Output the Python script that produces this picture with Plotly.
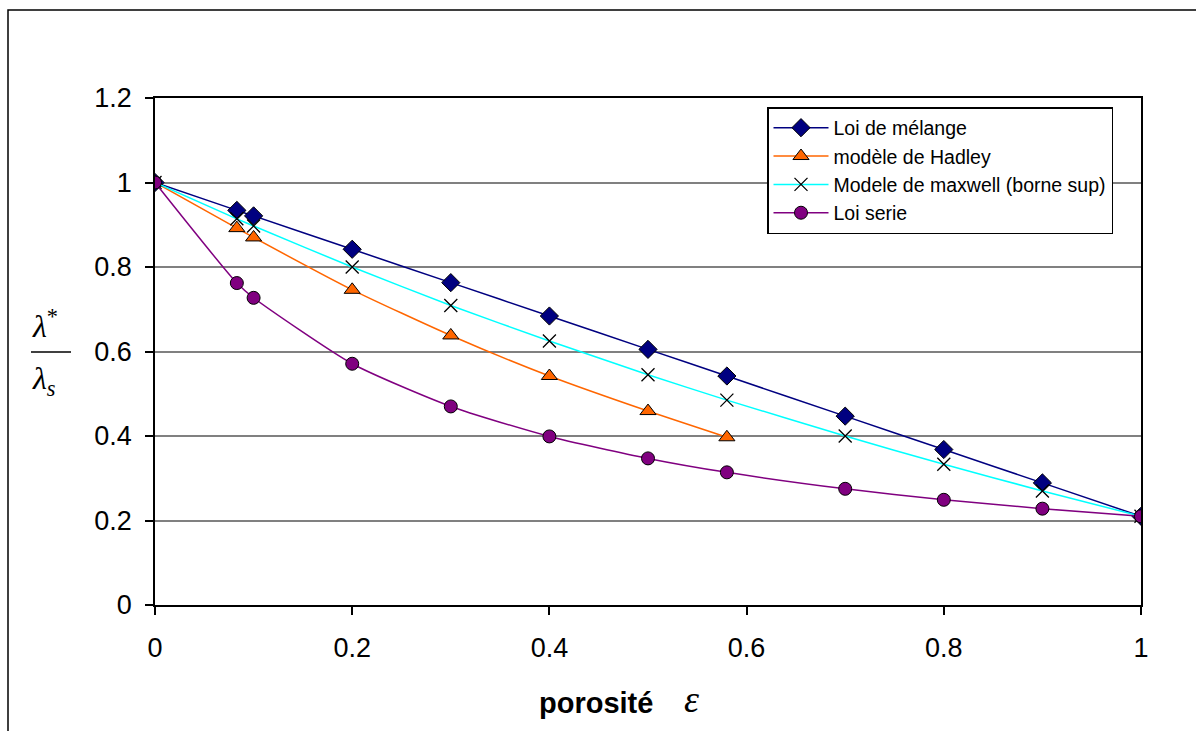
import plotly.graph_objects as go

# porosity values
x_melange = [0, 0.083, 0.1, 0.2, 0.3, 0.4, 0.5, 0.58, 0.7, 0.8, 0.9, 1.0]
y_melange = [1.0, 0.934, 0.921, 0.842, 0.763, 0.684, 0.605, 0.542, 0.447, 0.368, 0.289, 0.21]

x_hadley = [0, 0.083, 0.1, 0.2, 0.3, 0.4, 0.5, 0.58]
y_hadley = [1.0, 0.892, 0.870, 0.746, 0.638, 0.542, 0.459, 0.397]

x_maxwell = [0, 0.083, 0.1, 0.2, 0.3, 0.4, 0.5, 0.58, 0.7, 0.8, 0.9, 1.0]
y_maxwell = [1.0, 0.914, 0.897, 0.800, 0.709, 0.625, 0.545, 0.485, 0.400, 0.333, 0.270, 0.21]

x_serie = [0, 0.083, 0.1, 0.2, 0.3, 0.4, 0.5, 0.58, 0.7, 0.8, 0.9, 1.0]
y_serie = [1.0, 0.762, 0.727, 0.571, 0.470, 0.399, 0.347, 0.314, 0.275, 0.249, 0.228, 0.21]

names = ["Loi de mélange", "modèle de Hadley", "Modele de maxwell (borne sup)", "Loi serie"]
x_ticks = [0, 0.2, 0.4, 0.6, 0.8, 1]
y_ticks = [0, 0.2, 0.4, 0.6, 0.8, 1, 1.2]

W, H = 1196, 731
L, R, T, B = 155, 1141, 98, 605


def px(xp):
    return (xp - L) / (R - L)


def py(yp):
    return (B - yp) / (B - T)


fig = go.Figure()
fig.add_trace(go.Scatter(
    x=x_melange, y=y_melange, name=names[0], mode="lines+markers",
    line=dict(color="#000080", width=1.5, shape="spline", smoothing=0.6),
    marker=dict(symbol="diamond", size=14, color="#000080", line=dict(color="black", width=1))))
fig.add_trace(go.Scatter(
    x=x_hadley, y=y_hadley, name=names[1], mode="lines+markers",
    line=dict(color="#FF6600", width=1.5, shape="spline", smoothing=0.6),
    marker=dict(symbol="triangle-up", size=14, color="#FF6600", line=dict(color="black", width=1))))
fig.add_trace(go.Scatter(
    x=x_maxwell, y=y_maxwell, name=names[2], mode="lines+markers",
    line=dict(color="#00FFFF", width=1.5, shape="spline", smoothing=0.6),
    marker=dict(symbol="x-thin", size=13, color="black", line=dict(color="black", width=1.3))))
fig.add_trace(go.Scatter(
    x=x_serie, y=y_serie, name=names[3], mode="lines+markers",
    line=dict(color="#800080", width=1.5, shape="spline", smoothing=0.6),
    marker=dict(symbol="circle", size=13, color="#800080", line=dict(color="black", width=1))))

axis_font = dict(family="Arial, Liberation Sans, sans-serif", size=27, color="black")

fig.update_xaxes(
    range=[0, 1], tickvals=x_ticks, ticktext=[f"{v:g}" for v in x_ticks],
    showgrid=False, zeroline=False, showline=True, linecolor="black", linewidth=1.5,
    mirror=True, ticks="outside", ticklen=8, tickcolor="black", tickwidth=1.5,
    tickfont=axis_font, ticklabelstandoff=10)
fig.update_yaxes(
    range=[0, 1.2], tickvals=y_ticks, ticktext=[f"{v:g}" for v in y_ticks],
    showgrid=True, gridcolor="#808080", gridwidth=1.5, zeroline=False,
    showline=True, linecolor="black", linewidth=1.5, mirror=True,
    ticks="outside", ticklen=8, tickcolor="black", tickwidth=1.5,
    tickfont=axis_font, ticklabelstandoff=8)

serif = "Liberation Serif, DejaVu Serif, serif"
annotations = [
    dict(x=px(596), y=py(703), xref="paper", yref="paper", text="<b>porosité</b>",
         xanchor="center", yanchor="middle", showarrow=False,
         font=dict(family="Arial, Liberation Sans, sans-serif", size=29, color="black")),
    dict(x=px(691), y=py(699), xref="paper", yref="paper", text="<i>ε</i>",
         xanchor="center", yanchor="middle", showarrow=False,
         font=dict(family=serif, size=38, color="black")),
    dict(x=px(30), y=py(324), xref="paper", yref="paper", text="<i>λ</i><sup>*</sup>",
         xanchor="left", yanchor="middle", showarrow=False,
         font=dict(family=serif, size=32, color="black")),
    dict(x=px(30), y=py(380), xref="paper", yref="paper", text="<i>λ</i><sub><i>s</i></sub>",
         xanchor="left", yanchor="middle", showarrow=False,
         font=dict(family=serif, size=32, color="black")),
]

shapes = [
    # fraction bar
    dict(type="line", xref="paper", yref="paper", x0=px(31), x1=px(71), y0=py(352), y1=py(352),
         line=dict(color="black", width=1.5)),
    # outer chart border
    dict(type="rect", xref="paper", yref="paper", x0=px(8), x1=px(1210), y0=py(750), y1=py(10),
         line=dict(color="black", width=1.5), fillcolor="rgba(0,0,0,0)", layer="below"),
]

fig.update_layout(
    width=W, height=H,
    margin=dict(l=L, r=W - R, t=T, b=H - B),
    paper_bgcolor="white", plot_bgcolor="white",
    showlegend=True,
    legend=dict(x=px(767), y=py(107), xanchor="left", yanchor="top",
                bgcolor="white", bordercolor="black", borderwidth=1.5,
                font=dict(family="Arial, Liberation Sans, sans-serif", size=19.5, color="black"),
                tracegroupgap=0, itemwidth=55),
    annotations=annotations, shapes=shapes,
)

fig.write_html("out.html", config={"displayModeBar": False},
               post_script="document.body.style.margin='0';document.body.style.overflow='hidden';")
